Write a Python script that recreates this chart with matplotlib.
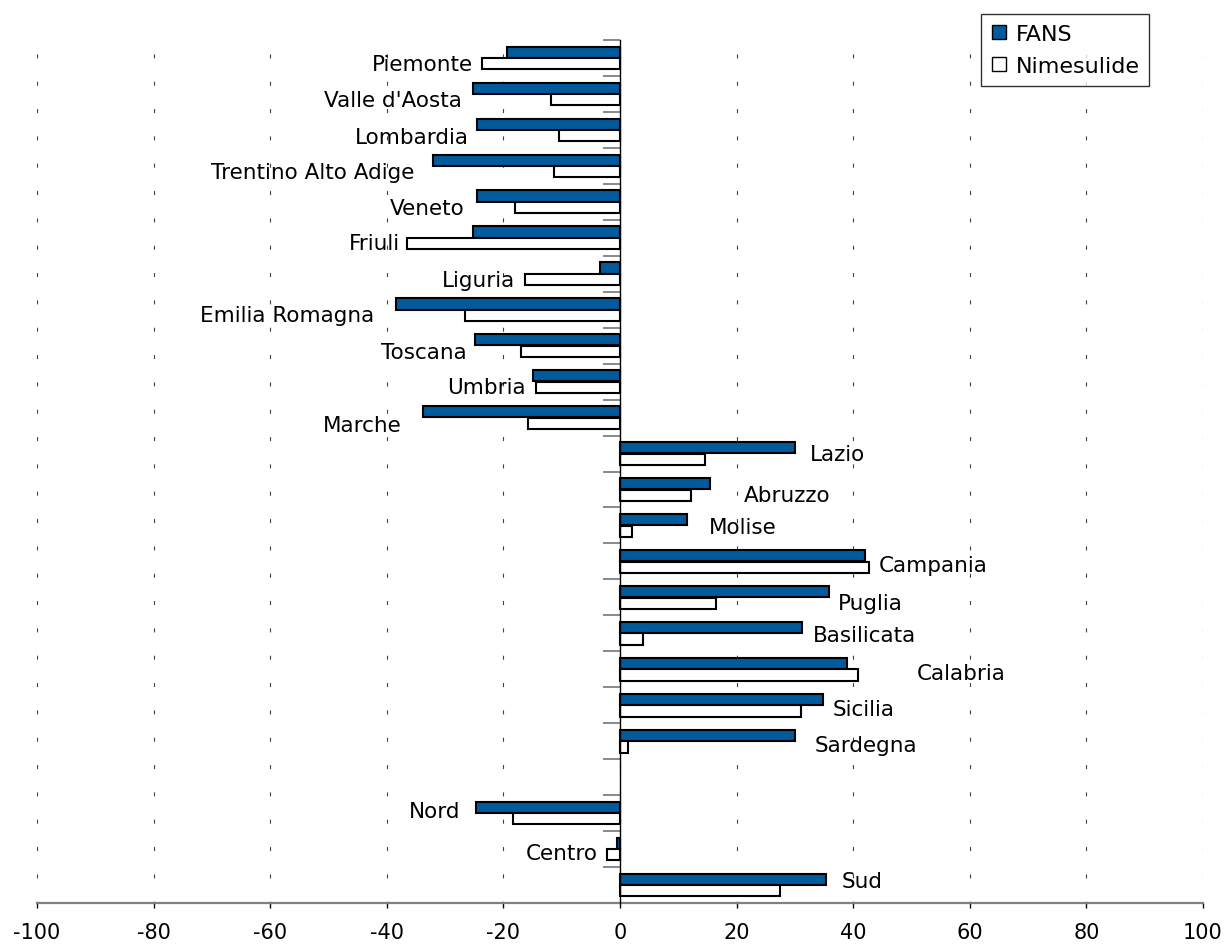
import matplotlib
matplotlib.use("Agg")
import matplotlib.pyplot as plt
from matplotlib.lines import Line2D
import numpy as np

# ---------------- data ----------------
categories = ["Piemonte", "Valle d'Aosta", "Lombardia", "Trentino Alto Adige", "Veneto",
              "Friuli", "Liguria", "Emilia Romagna", "Toscana", "Umbria", "Marche",
              "Lazio", "Abruzzo", "Molise", "Campania", "Puglia", "Basilicata",
              "Calabria", "Sicilia", "Sardegna", "", "Nord", "Centro", "Sud"]
fans = [-19.3, -25.3, -24.6, -32.1, -24.6, -25.3, -3.5, -38.4, -24.9, -15.0, -33.8,
        30.0, 15.4, 11.5, 42.1, 35.9, 31.3, 38.9, 34.9, 30.0, None, -24.7, -0.6, 35.3]
nimesulide = [-23.6, -11.8, -10.5, -11.4, -18.0, -36.5, -16.3, -26.6, -17.0, -14.4, -15.7,
              14.5, 12.1, 2.0, 42.7, 16.5, 3.9, 40.8, 31.0, 1.3, None, -18.4, -2.3, 27.4]
series_names = ["FANS", "Nimesulide"]
x_ticks = [-100, -80, -60, -40, -20, 0, 20, 40, 60, 80, 100]

# ---------------- label placement (layout only) ----------------
label_x = [-25.3, -27.1, -26.0, -35.2, -26.6, -37.7, -18.0, -42.2, -26.3, -16.1, -37.4,
           32.5, 21.3, 15.3, 44.3, 37.4, 33.1, 50.9, 36.4, 33.4, 0, -27.4, -3.9, 38.0]
label_dy = [0.33, 0.34, 0.37, 0.33, 0.35, 0.32, 0.34, 0.31, 0.33, 0.32, 0.37,
            0.17, 0.31, 0.20, 0.26, 0.33, 0.22, 0.27, 0.26, 0.26, 0, 0.10, 0.27, 0.06]

FANS_COLOR = "#005A9C"
FS = 15.5
FS_TICK = 15

fig = plt.figure(figsize=(12.26, 9.45), dpi=100)
ax = fig.add_axes([37 / 1226, 1 - 904 / 945, (1203 - 37) / 1226, (904 - 41) / 945])

n = len(categories)
ypos = np.arange(n)
h = 0.31
mask = [v is not None for v in fans]
yf = [y - 0.16 for y, m in zip(ypos, mask) if m]
ym = [y + 0.16 for y, m in zip(ypos, mask) if m]
fv = [v for v, m in zip(fans, mask) if m]
mv = [v for v, m in zip(nimesulide, mask) if m]

ax.barh(yf, fv, height=h, color=FANS_COLOR, edgecolor="black", linewidth=1.5, zorder=3)
ax.barh(ym, mv, height=h, color="white", edgecolor="black", linewidth=1.5, zorder=3)

ax.set_xlim(-100, 100)
ax.set_ylim(n - 0.5, -0.5)

# x axis
ax.set_xticks(x_ticks)
ax.set_xticklabels([str(t) for t in x_ticks], fontsize=FS_TICK)
ax.tick_params(axis="x", direction="out", length=3.8, width=1, color="black", pad=10)
ax.xaxis.grid(True, color="#404040", linewidth=0.8, linestyle=(2, (3.6, 21)), zorder=0)
ax.set_axisbelow(True)

# y (category) axis at zero
ax.spines["left"].set_position(("data", 0))
ax.spines["left"].set_color("black")
ax.spines["left"].set_linewidth(1.0)
ax.spines["left"].set_zorder(4)
ax.spines["right"].set_visible(False)
ax.spines["top"].set_visible(False)
ax.spines["bottom"].set_color("#808080")
ax.spines["bottom"].set_linewidth(1.6)
ax.set_yticks(np.arange(-0.5, n, 1.0))
ax.set_yticklabels([])
ax.tick_params(axis="y", direction="out", length=12.2, width=1.3, color="#808080")

# category labels
for i, name in enumerate(categories):
    if not name:
        continue
    ha = "right" if label_x[i] < 0 else "left"
    ax.text(label_x[i], i + label_dy[i], name, ha=ha, va="baseline",
            fontsize=FS, color="black", zorder=5)

# legend
handles = [
    Line2D([], [], linestyle="none", marker="s", markersize=10, markerfacecolor=FANS_COLOR,
           markeredgecolor="black", markeredgewidth=1.0),
    Line2D([], [], linestyle="none", marker="s", markersize=10, markerfacecolor="white",
           markeredgecolor="black", markeredgewidth=1.0),
]
leg = fig.legend(handles, series_names, loc="upper left",
                 bbox_to_anchor=(981 / 1226, 1 - 15 / 945), fontsize=FS + 0.5,
                 frameon=True, fancybox=False, borderpad=0.45, handlelength=0.7,
                 handletextpad=0.4, labelspacing=0.55, borderaxespad=0)
leg.get_frame().set_edgecolor("black")
leg.get_frame().set_linewidth(1.0)

fig.savefig("out.png", dpi=100, facecolor="white")
